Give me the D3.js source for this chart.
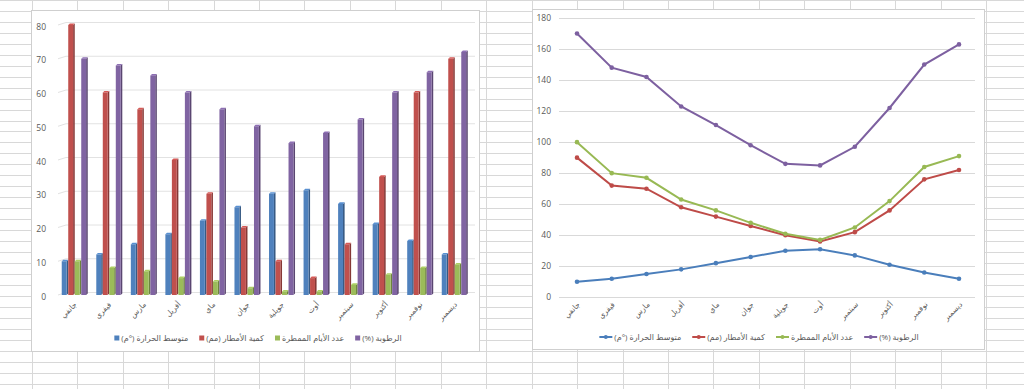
<!DOCTYPE html>
<html>
<head>
<meta charset="utf-8">
<script src="https://cdnjs.cloudflare.com/ajax/libs/d3/7.8.5/d3.min.js"></script>
<style>
body { margin: 0; background: #fff; }
svg { display: block; }
text { fill: #595959; font-family: "Open Sans", "DejaVu Sans", sans-serif; }
</style>
</head>
<body>
<div class="chart"></div>
<script>
const width = 1024;
const height = 389;

// data (the line chart is the same data, stacked)
const months = ["جانفي", "فيفري", "مارس", "أفريل", "ماي", "جوان", "جويلية", "أوت", "سبتمبر", "أكتوبر", "نوفمبر", "ديسمبر"];
const seriesNames = ["متوسط الحرارة (°م)", "كمية الأمطار (مم)", "عدد الأيام الممطرة", "الرطوبة (%)"];
const temperature = [10, 12, 15, 18, 22, 26, 30, 31, 27, 21, 16, 12];
const rainfall = [80, 60, 55, 40, 30, 20, 10, 5, 15, 35, 60, 70];
const rainyDays = [10, 8, 7, 5, 4, 2, 1, 1, 3, 6, 8, 9];
const humidity = [70, 68, 65, 60, 55, 50, 45, 48, 52, 60, 66, 72];
const barTicks = [0, 10, 20, 30, 40, 50, 60, 70, 80];
const lineTicks = [0, 20, 40, 60, 80, 100, 120, 140, 160, 180];

const colors = ["#4f81bd", "#c0504d", "#9bbb59", "#8064a2"];
const lineColors = ["#4a7ebb", "#be4b48", "#98b954", "#7d60a0"];

const keys = ["t", "r", "d", "h"];
const rows = months.map((m, i) => ({ month: m, t: temperature[i], r: rainfall[i], d: rainyDays[i], h: humidity[i] }));

let svg = d3.select(".chart")
    .append("svg")
    .attr("width", width)
    .attr("height", height);

// spreadsheet grid behind the charts
let sheet = svg.append("g").attr("stroke", "#d8d8d8").attr("stroke-width", 1);
d3.range(0, 23).forEach(k => {
    let x = Math.round(31.7 + k * 45.45) + 0.5;
    sheet.append("line").attr("x1", x).attr("x2", x).attr("y1", 0).attr("y2", height);
});
d3.range(-1, 36).forEach(k => {
    let y = Math.round(10.75 + k * 10.976) + 0.5;
    sheet.append("line").attr("x1", 0).attr("x2", width).attr("y1", y).attr("y2", y);
});

function frame(x0, y0, x1, y1) {
    svg.append("rect")
        .attr("x", x0 + 0.5).attr("y", y0 + 0.5)
        .attr("width", x1 - x0).attr("height", y1 - y0)
        .attr("fill", "#fff")
        .attr("stroke", "#cfcfcf");
}

// puts an rtl text so its left edge sits at x
function rtlText(g, x, y, str, size) {
    let t = g.append("text")
        .attr("direction", "rtl")
        .attr("x", 0).attr("y", y)
        .attr("dy", "0.35em")
        .attr("font-size", size)
        .text(str);
    let bb = t.node().getBBox();
    t.attr("x", x - bb.x);
    return bb.width;
}

// rotated month label, its end at (x, y)
function monthLabel(g, x, y, str) {
    let lg = g.append("g").attr("transform", `translate(${x},${y}) rotate(-45)`);
    let t = lg.append("text")
        .attr("direction", "rtl")
        .attr("dy", "0.35em")
        .attr("font-size", 7.5)
        .text(str);
    let bb = t.node().getBBox();
    t.attr("x", -(bb.x + bb.width));
}

function legend(g, cx, y, marker) {
    // measure first, then lay the items out from the centre
    let widths = seriesNames.map(s => {
        let t = g.append("text").attr("font-size", 8).attr("direction", "rtl").text(s);
        let w = t.node().getBBox().width;
        t.remove();
        return w;
    });
    let mw = marker === "square" ? 5 : 13;
    let total = d3.sum(widths) + seriesNames.length * (mw + 2) + (seriesNames.length - 1) * 11;
    let x = cx - total / 2;
    seriesNames.forEach((s, i) => {
        if (marker === "square") {
            g.append("rect").attr("x", x).attr("y", y - 2.5).attr("width", 5).attr("height", 5).attr("fill", colors[i]);
        } else {
            g.append("line").attr("x1", x).attr("x2", x + 13).attr("y1", y).attr("y2", y)
                .attr("stroke", lineColors[i]).attr("stroke-width", 2);
            g.append("circle").attr("cx", x + 6.5).attr("cy", y).attr("r", 2).attr("fill", lineColors[i]);
        }
        x += mw + 2;
        rtlText(g, x, y, s, 8);
        x += widths[i] + 11;
    });
}

// ---------- left: clustered 3d columns ----------
frame(31, 10, 479, 351);
let left = svg.append("g");

let y = d3.scaleLinear().domain([0, 80]).range([295, 25]);
let x0 = d3.scaleBand().domain(months).range([53.2, 476.3]).paddingInner(0.247).paddingOuter(0.247);
let x1 = d3.scaleBand().domain(keys).range([0, x0.bandwidth()]);

const back = -2.5;
barTicks.forEach(v => {
    left.append("path")
        .attr("d", `M58,${y(v)} L66,${y(v) + back} L475,${y(v) + back}`)
        .attr("fill", "none")
        .attr("stroke", "#e2e2e2");
    left.append("text")
        .attr("x", 46).attr("y", y(v) + 1.7)
        .attr("dy", "0.35em")
        .attr("text-anchor", "end")
        .attr("font-size", 8.5)
        .text(v);
});

const depth = 1.6;
let groups = left.selectAll("g.month")
    .data(rows)
    .enter()
    .append("g")
    .attr("class", "month")
    .attr("transform", d => `translate(${x0(d.month)},0)`);

keys.forEach((k, i) => {
    let c = d3.color(colors[i]);
    let bw = x1.bandwidth() - depth;
    groups.each(function(d) {
        let g = d3.select(this);
        let bx = x1(k), top = y(d[k]), base = y(0);
        g.append("path")
            .attr("d", `M${bx + bw},${top} L${bx + bw + depth},${top - depth} L${bx + bw + depth},${base - depth} L${bx + bw},${base}Z`)
            .attr("fill", c.darker(1));
        g.append("path")
            .attr("d", `M${bx},${top} L${bx + depth},${top - depth} L${bx + bw + depth},${top - depth} L${bx + bw},${top}Z`)
            .attr("fill", c.brighter(0.3));
        g.append("rect")
            .attr("x", bx).attr("y", top)
            .attr("width", bw).attr("height", base - top)
            .attr("fill", c);
    });
});

months.forEach(m => monthLabel(left, x0(m) + x0.bandwidth() / 2 + 1, 303, m));
legend(left, 258, 338, "square");

// ---------- right: stacked lines ----------
frame(532, 9, 984, 349);
let right = svg.append("g");

let yl = d3.scaleLinear().domain([0, 180]).range([297.3, 18]);
let xl = d3.scalePoint().domain(months).range([577, 959]);

lineTicks.forEach(v => {
    right.append("line")
        .attr("x1", 559).attr("x2", 975)
        .attr("y1", Math.round(yl(v)) + 0.5).attr("y2", Math.round(yl(v)) + 0.5)
        .attr("stroke", "#d9d9d9");
    right.append("text")
        .attr("x", 551).attr("y", yl(v))
        .attr("dy", "0.35em")
        .attr("text-anchor", "end")
        .attr("font-size", 8.5)
        .text(v);
});

let stacked = d3.stack().keys(keys)(rows);
let line = d3.line().x(d => xl(d.data.month)).y(d => yl(d[1]));

stacked.forEach((s, i) => {
    right.append("path")
        .datum(s)
        .attr("d", line)
        .attr("fill", "none")
        .attr("stroke", lineColors[i])
        .attr("stroke-width", 2);
    right.selectAll(null)
        .data(s)
        .enter()
        .append("circle")
        .attr("cx", d => xl(d.data.month))
        .attr("cy", d => yl(d[1]))
        .attr("r", 2.3)
        .attr("fill", lineColors[i]);
});

months.forEach(m => monthLabel(right, xl(m) + 2, 303, m));
legend(right, 759, 337, "line");
</script>
</body>
</html>
